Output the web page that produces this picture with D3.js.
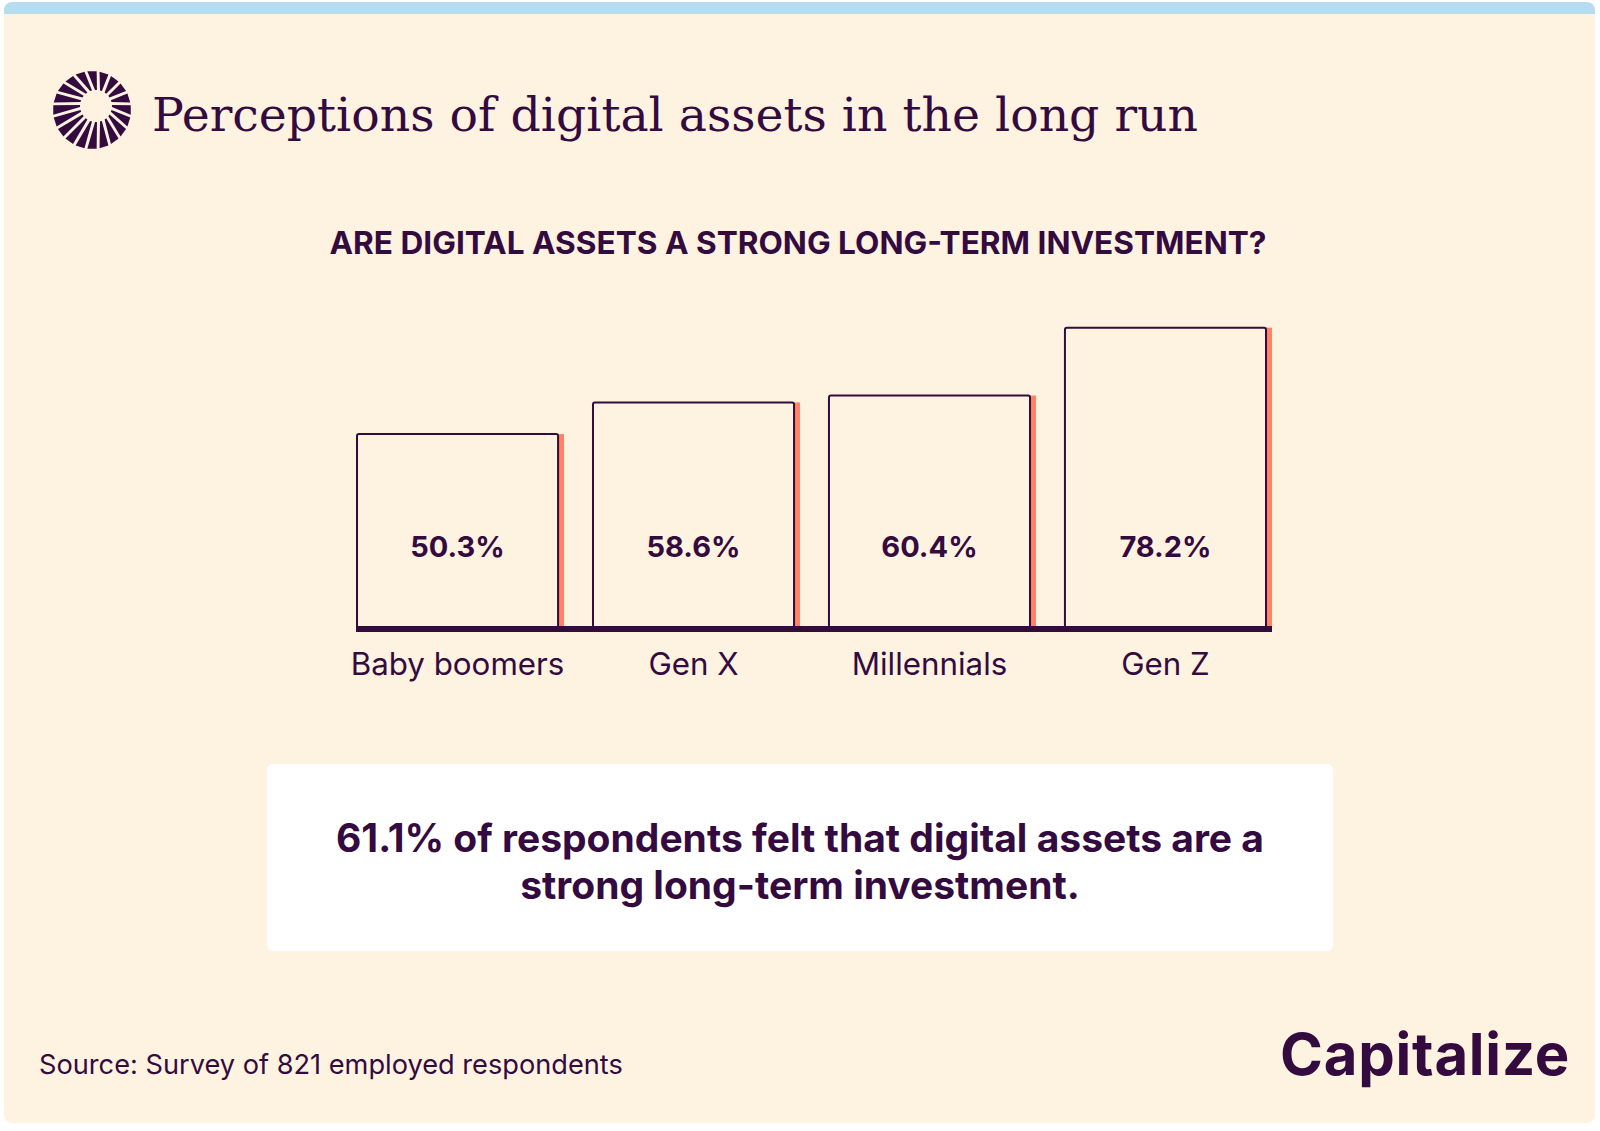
<!DOCTYPE html>
<html>
<head>
<meta charset="utf-8">
<script src="https://cdn.jsdelivr.net/npm/d3@7"></script>
<style>
  body { margin: 0; background: #ffffff; }
  svg { display: block; }
  text { fill: #330b3e; }
  .sans { font-family: Inter, "Noto Sans", sans-serif; }
</style>
</head>
<body>
<script>
// Data
const categories = ['Baby boomers', 'Gen X', 'Millennials', 'Gen Z'];
const values = [50.3, 58.6, 60.4, 78.2];
const title = 'Perceptions of digital assets in the long run';
const question = 'ARE DIGITAL ASSETS A STRONG LONG-TERM INVESTMENT?';
const calloutLines = ['61.1% of respondents felt that digital assets are a', 'strong long-term investment.'];
const source = 'Source: Survey of 821 employed respondents';

const W = 1600, H = 1131;
const ink = '#330b3e';
const cream = '#fef2e1';
const coral = '#ff8466';

const svg = d3.select('body').append('svg')
  .attr('width', W)
  .attr('height', H);

// card + top band
svg.append('rect').attr('x', 4).attr('y', 2).attr('width', 1591).attr('height', 40).attr('rx', 8).attr('fill', '#b6dcf0');
svg.append('rect').attr('x', 4).attr('y', 14).attr('width', 1591).attr('height', 1109).attr('rx', 8).attr('fill', cream);
svg.append('rect').attr('x', 4).attr('y', 14).attr('width', 1591).attr('height', 20).attr('fill', cream);

// sunburst logo
const logo = svg.append('g').attr('transform', 'translate(92,110)');
const rays = d3.range(20);
logo.selectAll('path')
  .data(rays)
  .enter()
  .append('path')
  .attr('fill', ink)
  .attr('d', (i) => {
    const a = (i / rays.length) * 2 * Math.PI;
    const ro = 39, ri = 16, dx = 4, dy = -4;
    const wo = 0.12, wi = 0.06;
    const p = [
      [ro * Math.cos(a - wo), ro * Math.sin(a - wo)],
      [ro * Math.cos(a + wo), ro * Math.sin(a + wo)],
      [dx + ri * Math.cos(a + wi), dy + ri * Math.sin(a + wi)],
      [dx + ri * Math.cos(a - wi), dy + ri * Math.sin(a - wi)]
    ];
    return 'M' + p.map((q) => q.join(',')).join('L') + 'Z';
  });

svg.append('text')
  .attr('x', 152)
  .attr('y', 131)
  .attr('font-family', '"DejaVu Serif", serif')
  .attr('font-size', 47)
  .attr('textLength', 1046)
  .attr('lengthAdjust', 'spacingAndGlyphs')
  .text(title);

svg.append('text')
  .attr('class', 'sans')
  .attr('x', 798)
  .attr('y', 254)
  .attr('text-anchor', 'middle')
  .attr('font-size', 31.6)
  .attr('font-weight', 700)
  .text(question);

// chart
const baseY = 626;
const x = d3.scaleBand()
  .domain(categories)
  .range([357, 1266])
  .paddingInner(0.148)
  .paddingOuter(0);

const y = d3.scaleLinear()
  .domain([0, 100])
  .range([baseY, baseY - 381.5]);

const bars = svg.append('g').attr('class', 'bars')
  .selectAll('g')
  .data(categories.map((c, i) => ({ cat: c, value: values[i] })))
  .enter()
  .append('g');

bars.append('rect')
  .attr('x', (d) => x(d.cat) + x.bandwidth())
  .attr('y', (d) => y(d.value))
  .attr('width', 6)
  .attr('height', (d) => baseY - y(d.value))
  .attr('fill', coral);

bars.append('rect')
  .attr('x', (d) => x(d.cat))
  .attr('y', (d) => y(d.value))
  .attr('width', x.bandwidth())
  .attr('height', (d) => baseY - y(d.value) + 2)
  .attr('rx', 2)
  .attr('fill', cream)
  .attr('stroke', ink)
  .attr('stroke-width', 2);

bars.append('text')
  .attr('class', 'sans')
  .attr('x', (d) => x(d.cat) + x.bandwidth() / 2)
  .attr('y', 557)
  .attr('text-anchor', 'middle')
  .attr('font-size', 29)
  .attr('font-weight', 700)
  .text((d) => d3.format('.1f')(d.value) + '%');

// baseline
svg.append('rect')
  .attr('x', x(categories[0]) - 1)
  .attr('y', baseY)
  .attr('width', x(categories[categories.length - 1]) + x.bandwidth() + 6 - x(categories[0]) + 1)
  .attr('height', 6)
  .attr('fill', ink);

const xAxis = d3.axisBottom(x).tickSize(0).tickPadding(0);
const axisG = svg.append('g')
  .attr('transform', 'translate(0,' + (baseY + 6) + ')')
  .call(xAxis);
axisG.select('.domain').remove();
axisG.selectAll('text')
  .attr('class', 'sans')
  .attr('dy', null)
  .attr('y', 43)
  .attr('font-size', 31.3)
  .attr('font-weight', 400)
  .attr('fill', ink);

// callout
svg.append('rect')
  .attr('x', 267)
  .attr('y', 764)
  .attr('width', 1066)
  .attr('height', 187)
  .attr('rx', 6)
  .attr('fill', '#ffffff');

svg.append('g').selectAll('text')
  .data(calloutLines)
  .enter()
  .append('text')
  .attr('class', 'sans')
  .attr('x', 800)
  .attr('y', (d, i) => 852 + i * 47)
  .attr('text-anchor', 'middle')
  .attr('font-size', 39)
  .attr('font-weight', 700)
  .text((d) => d);

svg.append('text')
  .attr('class', 'sans')
  .attr('x', 39)
  .attr('y', 1074)
  .attr('font-size', 27.2)
  .text(source);

svg.append('text')
  .attr('class', 'sans')
  .attr('x', 1280)
  .attr('y', 1075)
  .attr('font-size', 58)
  .attr('font-weight', 700)
  .attr('letter-spacing', 0.8)
  .text('Capitalize');
</script>
</body>
</html>
